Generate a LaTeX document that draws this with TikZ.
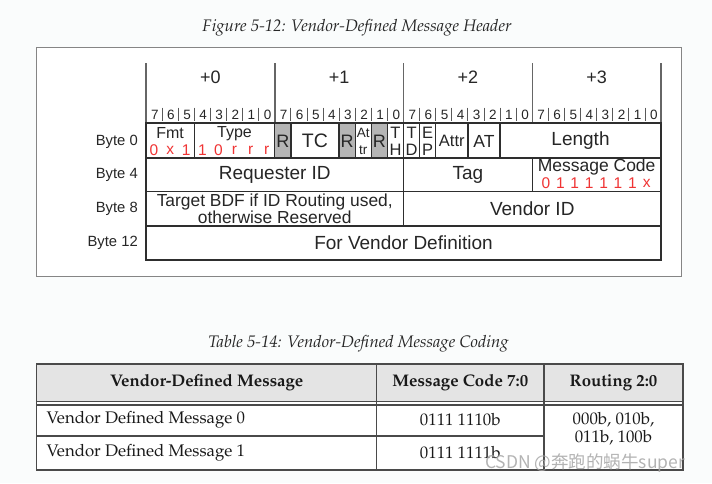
\documentclass[tikz,border=0pt]{standalone}
\usepackage{fontspec}
\setmainfont{Liberation Sans}
\newfontfamily\cjkf{Noto Sans CJK SC}
\newcommand\palf{\fontencoding{T1}\fontfamily{ppl}\selectfont}
\newcommand\bx[1]{\fpeval{146+(#1)*16.09375}}
\newcommand\fs[1]{\fontsize{#1}{#1}\selectfont}
\definecolor{bgc}{HTML}{FAFCFC}
\definecolor{cellline}{HTML}{2E2E2E}
\definecolor{txt}{HTML}{262626}
\definecolor{redt}{HTML}{F03434}
\definecolor{rgray}{HTML}{B5B5B5}
\definecolor{framec}{HTML}{858585}
\definecolor{hdr}{HTML}{E4E4E4}
\definecolor{tline}{HTML}{4A4A4A}
\tikzset{
  cellbox/.style={draw=cellline, line width=1.4pt},
  lbl/.style={text=txt, inner sep=0pt, font=\fs{19}},
  sml/.style={text=txt, inner sep=0pt, font=\fs{16}},
  redbit/.style={text=redt, inner sep=0pt, font=\fs{15.5}},
  bitnum/.style={text=txt, inner sep=0pt, font=\fs{13.5}},
  bytelbl/.style={text=txt, inner sep=0pt, font=\fs{14.8}, anchor=east},
  longtick/.style={draw=black!60, line width=1.5pt},
  shorttick/.style={draw=black!65, line width=0.8pt},
  tab/.style={draw=tline, line width=1.2pt},
  ttxt/.style={text=black!90, inner sep=0pt, font=\palf\fs{16.8}},
  thdr/.style={text=black!90, inner sep=0pt, font=\palf\bfseries\fs{16.8}},
  capt/.style={text=black!85, inner sep=0pt, font=\palf\itshape\fs{16.7}},
}
\newcommand\cell[5][white]{%
  \path[cellbox, fill=#1] ({\bx{#2}},#4) rectangle ({\bx{#3}},#5);}
\begin{document}
\begin{tikzpicture}[x=1pt,y=-1pt]
\fill[bgc] (0,0) rectangle (712,483);
\useasboundingbox (0,0) rectangle (712,483);

% ---------- figure caption and frame
\node[capt] (figcap) at (357,28) {Figure 5-12: Vendor-Defined Message Header};
\draw[framec, line width=1.2pt, fill=white] (36.7,47.3) rectangle (681.7,276.7);

% ---------- header ticks and bit numbers
\foreach \i in {0,8,16,24,32}
  \draw[longtick] ({\bx{\i}},63) -- ({\bx{\i}},122);
\foreach \i in {1,...,31}{
  \pgfmathtruncatemacro\m{mod(\i,8)}
  \ifnum\m>0 \draw[shorttick] ({\bx{\i}},107.5) -- ({\bx{\i}},120.5);\fi
}
\foreach \i in {0,...,31}{
  \pgfmathtruncatemacro\d{7-mod(\i,8)}
  \node[bitnum] (bit\i) at ({\bx{\i+0.55}},114.5) {\d};
}
\foreach \k in {0,1,2,3}
  \node[lbl, font=\fs{18}] (plus\k) at ({\bx{8*\k+4}},77.5) {+\k};

% ---------- byte labels
\node[bytelbl] (b0) at (138,141.5) {Byte 0};
\node[bytelbl] (b4) at (138,175) {Byte 4};
\node[bytelbl] (b8) at (138,209) {Byte 8};
\node[bytelbl] (b12) at (138,243) {Byte 12};

% ---------- row 0
\cell{0}{3}{123}{158}
\cell{3}{8}{123}{158}
\cell[rgray]{8}{9}{123}{158}
\cell{9}{12}{123}{158}
\cell[rgray]{12}{13}{123}{158}
\cell{13}{14}{123}{158}
\cell[rgray]{14}{15}{123}{158}
\cell{15}{16}{123}{158}
\cell{16}{17}{123}{158}
\cell{17}{18}{123}{158}
\cell{18}{20}{123}{158}
\cell{20}{22}{123}{158}
\cell{22}{32}{123}{158}
% ---------- row 1
\cell{0}{16}{158}{191.5}
\cell{16}{24}{158}{191.5}
\cell{24}{32}{158}{191.5}
% ---------- row 2
\cell{0}{16}{191.5}{226}
\cell{16}{32}{191.5}{226}
% ---------- row 3
\cell{0}{32}{226}{260}

% ---------- row 0 texts
\node[sml] (fmt) at ({\bx{1.5}},133.5) {Fmt};
\foreach \c/\t in {0/0,1/x,2/1}
  \node[redbit] (fmtb\c) at ({\bx{\c+0.5}},150.5) {\t};
\node[sml] (type) at ({\bx{5.5}},133.5) {Type};
\foreach \c/\t in {3/1,4/0,5/r,6/r,7/r}
  \node[redbit] (typeb\c) at ({\bx{\c+0.5}},150.5) {\t};
\node[lbl, font=\fs{18}] (ra) at ({\bx{8.5}},141) {R};
\node[lbl, font=\fs{19.5}] (tc) at ({\bx{10.5}},141) {TC};
\node[lbl, font=\fs{18}] (rb) at ({\bx{12.5}},141) {R};
\node[sml, font=\fs{13.5}] (at1) at ({\bx{13.5}},133) {At};
\node[sml, font=\fs{13.5}] (at2) at ({\bx{13.5}},150) {tr};
\node[lbl, font=\fs{18}] (rc) at ({\bx{14.5}},141) {R};
\node[sml, font=\fs{16.5}] (th1) at ({\bx{15.5}},133) {T};
\node[sml, font=\fs{16.5}] (th2) at ({\bx{15.5}},150) {H};
\node[sml, font=\fs{16.5}] (td1) at ({\bx{16.5}},133) {T};
\node[sml, font=\fs{16.5}] (td2) at ({\bx{16.5}},150) {D};
\node[sml, font=\fs{16.5}] (ep1) at ({\bx{17.5}},133) {E};
\node[sml, font=\fs{16.5}] (ep2) at ({\bx{17.5}},150) {P};
\node[sml, font=\fs{16.5}] (attr) at ({\bx{19}},141) {Attr};
\node[sml, font=\fs{17.5}] (atf) at ({\bx{21}},141) {AT};
\node[lbl] (len) at ({\bx{27}},141) {Length};

% ---------- row 1 texts
\node[lbl] (rid) at ({\bx{8}},174.5) {Requester ID};
\node[lbl] (tag) at ({\bx{20}},174.5) {Tag};
\node[sml, font=\fs{17.5}] (mc) at ({\bx{28}},166.5) {Message Code};
\foreach \c/\t in {0/0,1/1,2/1,3/1,4/1,5/1,6/1,7/x}
  \node[redbit] (mcb\c) at ({546+\c*14.4},183) {\t};

% ---------- row 2 texts
\node[sml, font=\fs{17.4}] (bdf1) at ({\bx{8}},201.5) {Target BDF if ID Routing used,};
\node[sml, font=\fs{17.4}] (bdf2) at ({\bx{8}},217) {otherwise Reserved};
\node[lbl] (vid) at ({\bx{24}},208.5) {Vendor ID};

% ---------- row 3 text
\node[lbl] (vdef) at ({\bx{16}},242.5) {For Vendor Definition};

% ---------- table 5-14
\node[capt] (tabcap) at (358.5,343.5) {Table 5-14: Vendor-Defined Message Coding};
\fill[white] (36.7,364) rectangle (683,470);
\fill[hdr] (36.7,364) rectangle (683,401.7);
\draw[tab] (36.7,364) rectangle (683,470);
\draw[tab] (36.7,401.7) -- (683,401.7);
\draw[tab] (36.7,405) -- (683,405);
\draw[tab] (36.7,436) -- (544,436);
\draw[tab] (376.7,364) -- (376.7,470);
\draw[tab] (544,364) -- (544,470);

\node[thdr] (h1) at (206.7,383) {Vendor-Defined Message};
\node[thdr] (h2) at (460.3,383) {Message Code 7:0};
\node[thdr] (h3) at (613.5,383) {Routing 2:0};
\node[ttxt, anchor=west] (r1a) at (46.5,419.5) {Vendor Defined Message 0};
\node[ttxt, anchor=west] (r2a) at (46.5,453) {Vendor Defined Message 1};
\node[ttxt] (r1b) at (460.3,419.5) {0111 1110b};
\node[ttxt] (r2b) at (460.3,453) {0111 1111b};
\node[ttxt] (r1c) at (613.5,419.5) {000b, 010b,};
\node[ttxt] (r2c) at (613.5,438) {011b, 100b};

% ---------- watermark
\node[inner sep=0pt, text=black!35, opacity=0.85, font=\cjkf\fs{17.5}] (wm) at (585,463.5) {CSDN @奔跑的蜗牛super};
\end{tikzpicture}
\end{document}
